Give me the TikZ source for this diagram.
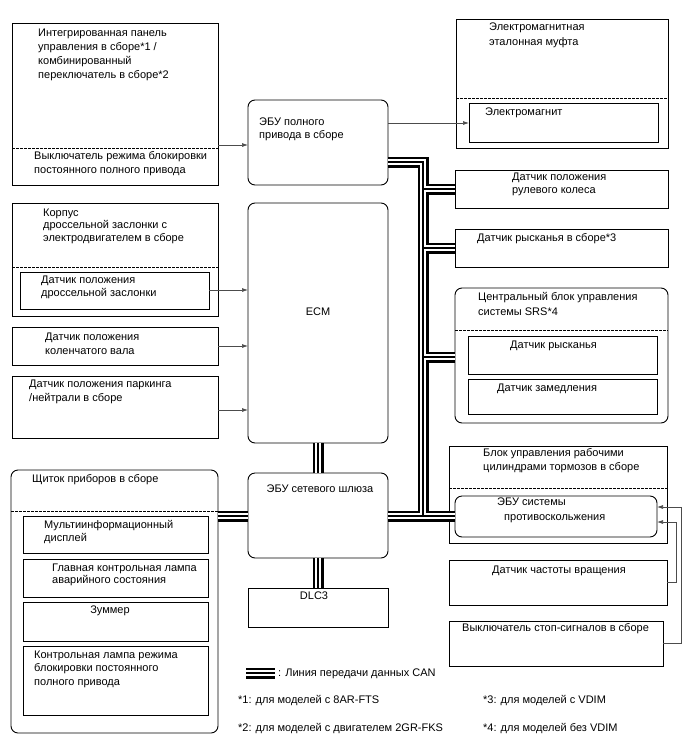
\documentclass[tikz,border=0pt]{standalone}
\usepackage{fontspec}
\setmainfont{Liberation Sans}
\usetikzlibrary{arrows.meta}
\begin{document}
\begin{tikzpicture}[x=1pt,y=-1pt,
  box/.style={draw=black, line width=0.9pt, rectangle, anchor=north west, inner sep=0pt, outer sep=0pt},
  rbox/.style={box, rounded corners=7pt},
  lbl/.style={anchor=north west, inner sep=0pt, align=left, font=\fontsize{11}{14}\selectfont, execute at begin node={\rule{0pt}{8pt}}},
  ctr/.style={anchor=center, inner sep=0pt, font=\fontsize{11}{14}\selectfont},
  sig/.style={draw=black!70, line width=0.7pt, -{Latex[length=6pt,width=4pt]}},
  dsh/.style={black, line width=1pt, dash pattern=on 2.5pt off 1.5pt}
]
\useasboundingbox[fill=white] (0,0) rectangle (688,755);

% ---------- boxes ----------
\node[box, minimum width=206pt, minimum height=162pt] (intg) at (12,23) {};
\node[rbox, minimum width=140pt, minimum height=85pt] (ecu4) at (248,100) {};
\node[box, minimum width=212pt, minimum height=129pt] (emc) at (456,19) {};
\node[box, minimum width=189pt, minimum height=39pt] (emag) at (469,103) {};
\node[box, minimum width=213pt, minimum height=38pt] (steer) at (455,170) {};
\node[box, minimum width=213pt, minimum height=38pt] (yaw3) at (455,229) {};
\node[rbox, minimum width=213pt, minimum height=135pt] (srs) at (455,288) {};
\node[box, minimum width=189pt, minimum height=38pt] (srsyaw) at (468,336) {};
\node[box, minimum width=189pt, minimum height=35pt] (srsdec) at (468,379) {};
\node[box, minimum width=206pt, minimum height=113pt] (thr) at (12,203) {};
\node[box, minimum width=189pt, minimum height=37pt] (tps) at (20,272) {};
\node[box, minimum width=206pt, minimum height=38pt] (crk) at (12,327) {};
\node[box, minimum width=206pt, minimum height=62pt] (pnp) at (12,376) {};
\node[rbox, minimum width=140pt, minimum height=240pt] (ecm) at (248,203) {};
\node[rbox, minimum width=140pt, minimum height=85pt] (gw) at (248,473) {};
\node[box, minimum width=140pt, minimum height=39pt] (dlc) at (248,588) {};
\node[rbox, minimum width=207pt, minimum height=263pt] (meter) at (11,470) {};
\node[box, minimum width=185pt, minimum height=37pt] (mid) at (23,516) {};
\node[box, minimum width=185pt, minimum height=38pt] (mwl) at (23,559) {};
\node[box, minimum width=185pt, minimum height=39pt] (buz) at (23,602) {};
\node[box, minimum width=185pt, minimum height=69pt] (lock) at (23,646) {};
\node[box, minimum width=218pt, minimum height=97pt] (brk) at (449,446) {};
\node[rbox, minimum width=202pt, minimum height=41pt] (skid) at (455,496) {};
\node[box, minimum width=218pt, minimum height=45pt] (spd) at (449,560) {};
\node[box, minimum width=214pt, minimum height=45pt] (stop) at (449,621) {};

% ---------- dashed dividers ----------
\draw[dsh] (12,148) -- (218,148);
\draw[dsh] (456,98) -- (668,98);
\draw[dsh] (455,330) -- (668,330);
\draw[dsh] (12,267) -- (218,267);
\draw[dsh] (11,511) -- (218,511);
\draw[dsh] (449,488) -- (667,488);

% ---------- texts ----------
\node[lbl] (t1) at (38,28.5) {Интегрированная панель\\управления в сборе*1 /\\комбинированный\\переключатель в сборе*2};
\node[lbl] (t2) at (34,151.5) {Выключатель режима блокировки\\постоянного полного привода};
\node[lbl, font=\fontsize{11}{13}\selectfont] (t3) at (259,117.5) {ЭБУ полного\\привода в сборе};
\node[lbl, font=\fontsize{11}{15}\selectfont] (t4) at (489,22.5) {Электромагнитная\\эталонная муфта};
\node[lbl] (t5) at (485,107.5) {Электромагнит};
\node[lbl, font=\fontsize{11}{13}\selectfont] (t6) at (512,172.5) {Датчик положения\\рулевого колеса};
\node[lbl] (t7) at (477,233.5) {Датчик рысканья в сборе*3};
\node[lbl, font=\fontsize{11}{15}\selectfont] (t8) at (478,292.5) {Центральный блок управления\\системы SRS*4};
\node[lbl] (t9) at (510,340.5) {Датчик рысканья};
\node[lbl] (t10) at (497,383.5) {Датчик замедления};
\node[lbl, font=\fontsize{11}{12.7}\selectfont] (t11) at (43,208.5) {Корпус\\дроссельной заслонки с\\электродвигателем в сборе};
\node[lbl, font=\fontsize{11}{13}\selectfont] (t12) at (41,275.5) {Датчик положения\\дроссельной заслонки};
\node[lbl] (t13) at (45,332.5) {Датчик положения\\коленчатого вала};
\node[lbl] (t14) at (29,379.5) {Датчик положения паркинга\\/нейтрали в сборе};
\node[ctr] (t15) at (318,312) {ECM};
\node[ctr] (t16) at (320,489) {ЭБУ сетевого шлюза};
\node[ctr] (t17) at (314,596) {DLC3};
\node[lbl] (t18) at (32,474.5) {Щиток приборов в сборе};
\node[lbl, font=\fontsize{11}{13}\selectfont] (t19) at (44,520.5) {Мультиинформационный\\дисплей};
\node[lbl, font=\fontsize{11}{12.5}\selectfont] (t20) at (52,563.5) {Главная контрольная лампа\\аварийного состояния};
\node[ctr] (t21) at (110,611) {Зуммер};
\node[lbl, font=\fontsize{11}{13.5}\selectfont] (t22) at (34,650.5) {Контрольная лампа режима\\блокировки постоянного\\полного привода};
\node[lbl] (t23) at (483,448.5) {Блок управления рабочими\\цилиндрами тормозов в сборе};
\node[lbl, font=\fontsize{11}{14.5}\selectfont] (t24) at (497,498) {ЭБУ системы\\\hspace*{7pt}противоскольжения};
\node[lbl] (t25) at (492,565.5) {Датчик частоты вращения};
\node[lbl] (t26) at (462,623.5) {Выключатель стоп-сигналов в сборе};
\node[lbl] (t27) at (278,668.5) {: Линия передачи данных CAN};
\node[lbl] (t28) at (238,695.5) {*1: для моделей с 8AR-FTS};
\node[lbl] (t29) at (238,723.5) {*2: для моделей с двигателем 2GR-FKS};
\node[lbl] (t30) at (483,695.5) {*3: для моделей с VDIM};
\node[lbl] (t31) at (483,723.5) {*4: для моделей без VDIM};

% ---------- signal arrows ----------
\draw[sig] (intg.east |- 0,145) -- (ecu4.west |- 0,145);
\draw[sig] (ecu4.east |- 0,123) -- (emag.west |- 0,123);
\draw[sig] (tps.east |- 0,290) -- (ecm.west |- 0,290);
\draw[sig] (crk.east |- 0,346) -- (ecm.west |- 0,346);
\draw[sig] (pnp.east |- 0,410) -- (ecm.west |- 0,410);
\draw[sig] (stop.east |- 0,643) -- (681,643) -- (681,507) -- (skid.east |- 0,507);
\draw[sig] (spd.east |- 0,582) -- (676,582) -- (676,522) -- (skid.east |- 0,522);

% ---------- CAN bus ----------
\coordinate (lg1) at (246,673);
\coordinate (lg2) at (275,673);
\foreach \w/\c in {11/black,6.4/white,1.2/black}{
  \draw[line width=\w pt, \c]
    (ecu4.east |- 0,162) -- (423,162) -- (423,516)
    (gw.east |- 0,516) -- (skid.west |- 0,516)
    (423,189) -- (steer.west |- 0,189)
    (423,248) -- (yaw3.west |- 0,248)
    (423,357) -- (srs.west |- 0,357)
    (ecm.south) -- (gw.north)
    (gw.south) -- (dlc.north)
    (meter.east |- 0,516) -- (gw.west |- 0,516)
    (lg1) -- (lg2);
}
\end{tikzpicture}
\end{document}
